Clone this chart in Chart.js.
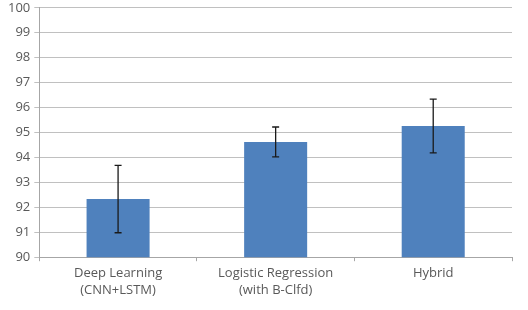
<!DOCTYPE html>
<html>
<head>
<meta charset="utf-8">
<script src="https://cdn.jsdelivr.net/npm/chart.js@4.4.0/dist/chart.umd.min.js"></script>
<style>
  html, body { margin: 0; padding: 0; background: #fff; overflow: hidden; }
  #accChart { display: block; margin-top: -4px; }
</style>
</head>
<body>
<canvas id="accChart" width="528" height="314"></canvas>
<script>
const categories = [['Deep Learning', '(CNN+LSTM)'], ['Logistic Regression', '(with B-Clfd)'], 'Hybrid'];
const accuracy = [92.33, 94.62, 95.26];
const errors = [1.35, 0.6, 1.08];

// dibuja las barras de error encima de cada barra
const errorBars = {
    id: 'errorBars',
    afterDatasetsDraw(chart) {
        const ctx = chart.ctx;
        const meta = chart.getDatasetMeta(0);
        const y = chart.scales.y;
        ctx.save();
        ctx.strokeStyle = '#1a1a1a';
        ctx.lineWidth = 1.3;
        meta.data.forEach((bar, i) => {
            const top = y.getPixelForValue(accuracy[i] + errors[i]);
            const bottom = y.getPixelForValue(accuracy[i] - errors[i]);
            ctx.beginPath();
            ctx.moveTo(bar.x, top);
            ctx.lineTo(bar.x, bottom);
            ctx.moveTo(bar.x - 3.5, top);
            ctx.lineTo(bar.x + 3.5, top);
            ctx.moveTo(bar.x - 3.5, bottom);
            ctx.lineTo(bar.x + 3.5, bottom);
            ctx.stroke();
        });
        ctx.restore();
    }
};

const ctx = document.getElementById('accChart').getContext('2d');
new Chart(ctx, {
    type: 'bar',
    data: {
        labels: categories,
        datasets: [{
            label: 'Accuracy',
            data: accuracy,
            backgroundColor: '#4f81bd',
            borderWidth: 0,
            barPercentage: 0.4,
            categoryPercentage: 1
        }]
    },
    options: {
        responsive: false,
        animation: false,
        layout: { padding: { top: 0, right: 16, left: 4, bottom: 7 } },
        plugins: {
            legend: { display: false },
            tooltip: { enabled: false }
        },
        scales: {
            y: {
                min: 90,
                max: 100,
                ticks: {
                    stepSize: 1,
                    autoSkip: false,
                    color: '#595959',
                    font: { family: 'Open Sans', size: 13 },
                    padding: 4
                },
                grid: { color: '#c0c0c0', tickLength: 5, lineWidth: 1 },
                border: { color: '#a6a6a6' }
            },
            x: {
                offset: true,
                ticks: {
                    autoSkip: false,
                    color: '#595959',
                    font: { family: 'Open Sans', size: 13, lineHeight: 1.3 },
                    padding: 4,
                    maxRotation: 0
                },
                grid: { offset: true, drawOnChartArea: false, tickLength: 4, color: '#a6a6a6' },
                border: { color: '#a6a6a6' }
            }
        }
    },
    plugins: [errorBars]
});
</script>
</body>
</html>
